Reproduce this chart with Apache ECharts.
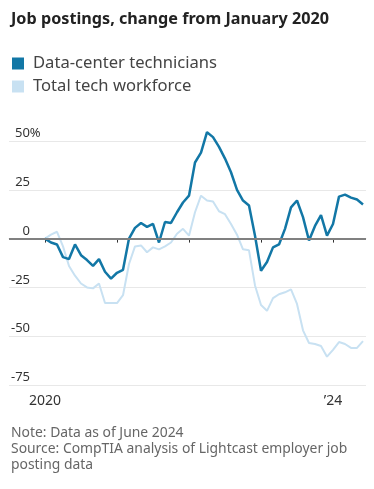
<!DOCTYPE html>
<html><head><meta charset="utf-8">
<script src="https://cdn.jsdelivr.net/npm/echarts@6/dist/echarts.min.js"></script>
<style>html,body{margin:0;padding:0;background:#fff}#c{width:374px;height:489px}</style>
</head><body><div id="c"></div><script>
// Monthly values, Jan 2020 (index 0) .. Jun 2024 (index 53), % change from Jan 2020
const seriesNames = ['Data-center technicians', 'Total tech workforce'];
const dataCenter = [0,-2,-3,-9.5,-10.5,-3,-8.5,-11,-14,-10.5,-17,-20.5,
  -17.5,-16,0,5.5,8,6,7.5,-2,8.5,8,13.5,18.5,
  22,39,44,54.5,52,47,41,34,25,19.5,17,1.5,
  -16.5,-12,-4.5,-3,5,16,19.5,11,-1,6.5,12,1.5,
  7.5,21.5,22.5,21,20,17.5];
const totalTech = [0,2,3.5,-4,-14,-19,-23,-25,-25.5,-23,-33,-33,
  -33,-29,-13,-4,-3.5,-7,-4.5,-5.5,-4,-2,2.5,5,
  1.5,13.5,22,19.5,19,14,12.5,7.5,2,-5.5,-6,-24,
  -34,-37,-30.5,-28.5,-27.5,-26,-33.5,-47,-53.5,-54,-55,-60.5,
  -57,-53,-54,-56,-56,-52.5];
const yTickValues = [-75,-50,-25,0,25,50];
const xTickMonths = [0,12,24,36,48];
const xTickLabels = ['2020','','','','’24'];

const FONT = 'Noto Sans';
const chart = echarts.init(document.getElementById('c'), null, {renderer:'canvas'});
chart.setOption({
  animation:false,
  textStyle:{fontFamily:FONT},
  title:[
    {text:'Job postings, change from January 2020', left:11, top:11, padding:0,
     textStyle:{fontFamily:FONT, fontSize:16.2, fontWeight:'bold', color:'#222'}},
    {text:'Note: Data as of June 2024\nSource: CompTIA analysis of Lightcast employer job\nposting data',
     left:11, top:425, padding:0,
     textStyle:{fontFamily:FONT, fontSize:13.9, fontWeight:'normal', color:'#666', lineHeight:16}}
  ],
  legend:{orient:'vertical', left:12, top:55, padding:0, icon:'rect', itemWidth:12, itemHeight:12, itemGap:6,
    data:seriesNames, selectedMode:false,
    textStyle:{fontFamily:FONT, fontSize:16.6, color:'#444', padding:[0,0,0,4]}},
  grid:{left:9, right:8, top:141, bottom:104, containLabel:false},
  xAxis:{type:'value', min:-6, max:53.5,
    axisLine:{show:true, lineStyle:{color:'#e4e4e4', width:1}},
    axisTick:{show:true, customValues:xTickMonths, length:4, lineStyle:{color:'#333', width:1}},
    axisLabel:{show:true, customValues:[xTickMonths[0], xTickMonths[4]], margin:9,
      formatter:v=>xTickLabels[xTickMonths.indexOf(v)],
      fontFamily:FONT, fontSize:14, color:'#333'},
    splitLine:{show:false}},
  yAxis:{type:'value', min:yTickValues[0], max:yTickValues[yTickValues.length-1], interval:25,
    axisLine:{show:false}, axisTick:{show:false},
    axisLabel:{inside:true, margin:1, align:'left', verticalAlign:'bottom', padding:[0,0,1,0],
      formatter:v=> v===50 ? '{q|50%}' : '{n|'+v+'}',
      rich:{n:{width:20, align:'right', fontFamily:FONT, fontSize:13, color:'#333'},
            q:{padding:[0,0,0,5], fontFamily:FONT, fontSize:13, color:'#333'}}},
    splitLine:{show:true, lineStyle:{color:'#e8e8e8', width:1}}},
  series:[
    {name:seriesNames[1], type:'line', symbol:'none', clip:false, z:2,
     data:totalTech.map((v,i)=>[i,v]),
     itemStyle:{color:'#c8e1f2'}, lineStyle:{color:'#c8e1f2', width:2},
     markLine:{silent:true, symbol:'none', label:{show:false},
       lineStyle:{color:'#808080', width:2, type:'solid'}, data:[{yAxis:0}]}},
    {name:seriesNames[0], type:'line', symbol:'none', clip:false, z:3,
     data:dataCenter.map((v,i)=>[i,v]),
     itemStyle:{color:'#1277a6'}, lineStyle:{color:'#1277a6', width:2.5}}
  ]
});
</script></body></html>
